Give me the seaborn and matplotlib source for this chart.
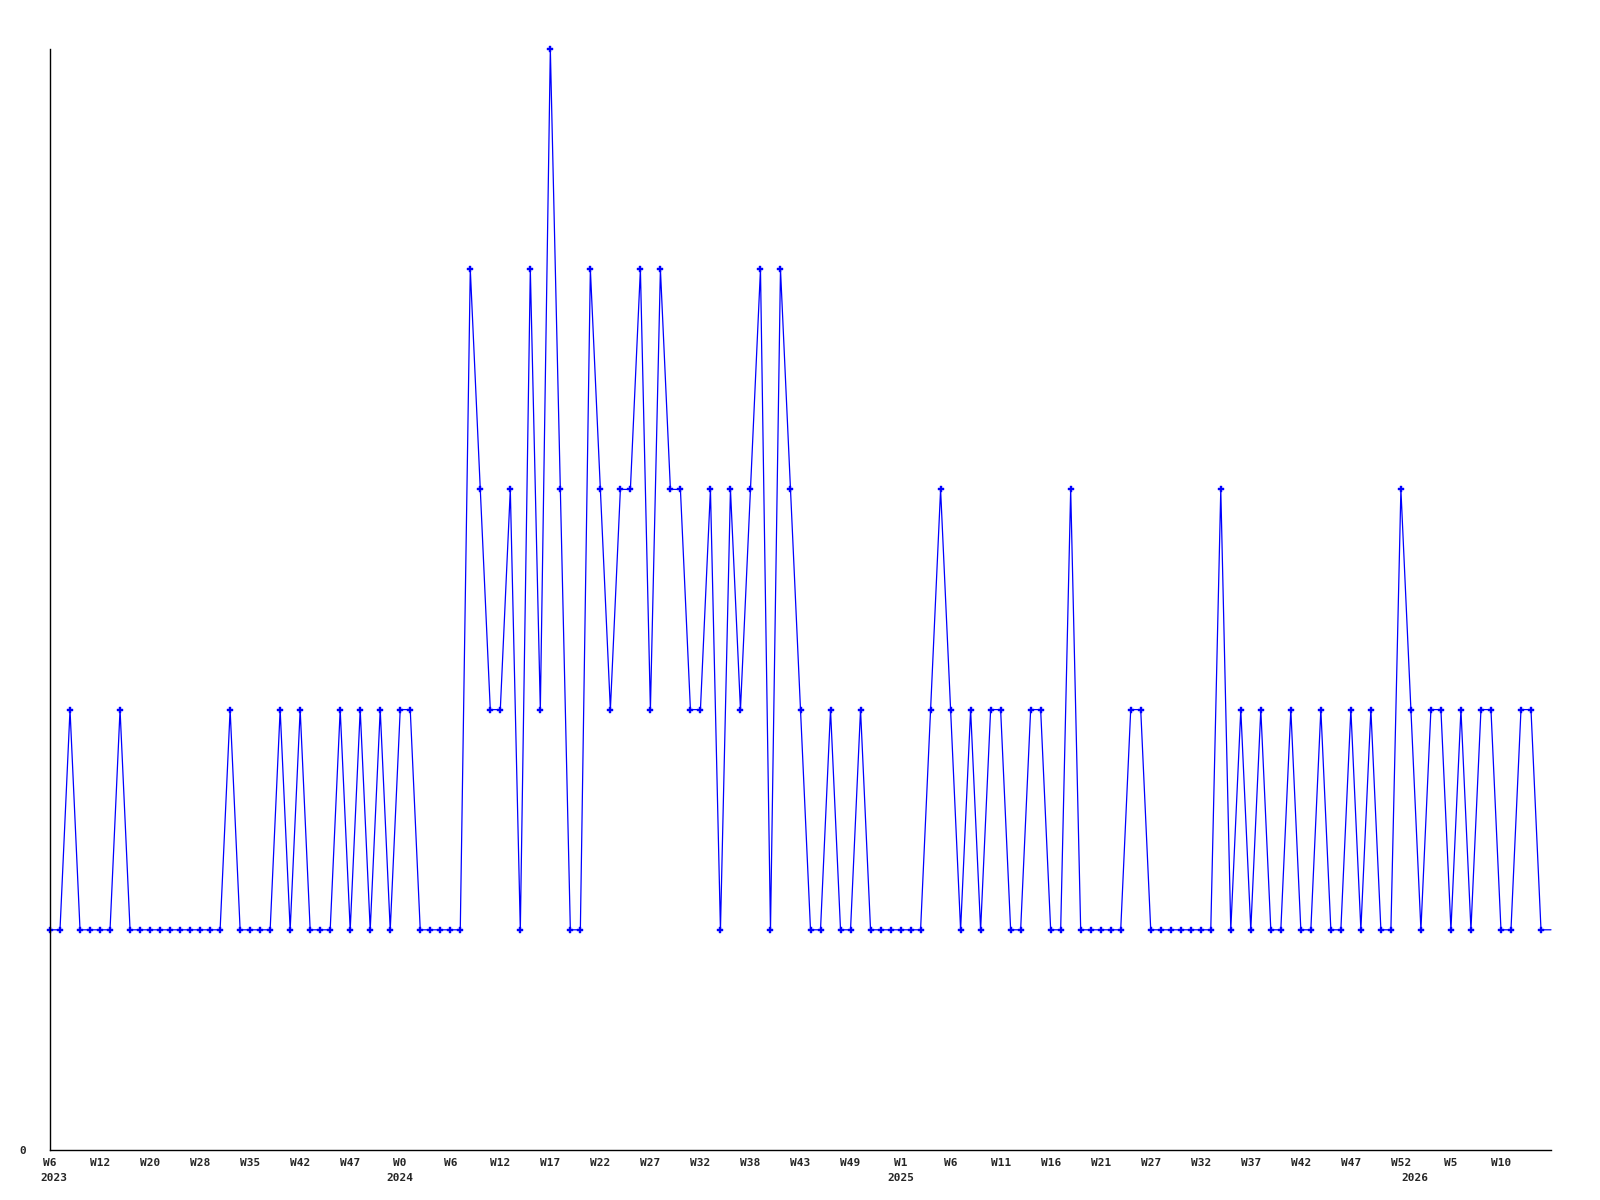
import numpy as np
import pandas as pd
import matplotlib
matplotlib.use('Agg')
import matplotlib.pyplot as plt
import seaborn as sns

# weekly counts, one value per week
counts = [1, 1, 2, 1, 1, 1, 1, 2, 1, 1,
          1, 1, 1, 1, 1, 1, 1, 1, 2, 1,
          1, 1, 1, 2, 1, 2, 1, 1, 1, 2,
          1, 2, 1, 2, 1, 2, 2, 1, 1, 1,
          1, 1, 4, 3, 2, 2, 3, 1, 4, 2,
          5, 3, 1, 1, 4, 3, 2, 3, 3, 4,
          2, 4, 3, 3, 2, 2, 3, 1, 3, 2,
          3, 4, 1, 4, 3, 2, 1, 1, 2, 1,
          1, 2, 1, 1, 1, 1, 1, 1, 2, 3,
          2, 1, 2, 1, 2, 2, 1, 1, 2, 2,
          1, 1, 3, 1, 1, 1, 1, 1, 2, 2,
          1, 1, 1, 1, 1, 1, 1, 3, 1, 2,
          1, 2, 1, 1, 2, 1, 1, 2, 1, 1,
          2, 1, 2, 1, 1, 3, 2, 1, 2, 2,
          1, 2, 1, 2, 2, 1, 1, 2, 2, 1,
          1]

week_labels = ['W6', 'W12', 'W20', 'W28', 'W35', 'W42', 'W47', 'W0', 'W6', 'W12',
               'W17', 'W22', 'W27', 'W32', 'W38', 'W43', 'W49', 'W1', 'W6', 'W11',
               'W16', 'W21', 'W27', 'W32', 'W37', 'W42', 'W47', 'W52', 'W5', 'W10']
label_step = 5

years = ['2023', '2024', '2025', '2026']
year_pos = [0.4, 35, 85, 136.4]

df = pd.DataFrame({'week': np.arange(len(counts)), 'count': counts})

sns.set_style('white')
plt.rcParams['font.family'] = ['DejaVu Sans Mono', 'DejaVu Sans']
plt.rcParams['font.weight'] = 'bold'

fig = plt.figure(figsize=(16, 12), dpi=100)
ax = fig.add_axes([50 / 1600, 50 / 1200, 1501 / 1600, 1101 / 1200])

sns.lineplot(data=df, x='week', y='count', ax=ax, color='#0000ff', linewidth=0.9,
             marker='P', markersize=5, markeredgewidth=0.3, markeredgecolor='#0000ff',
             markevery=list(range(len(counts) - 1)), clip_on=False)

ax.set_xlim(0, len(counts) - 1)
ax.set_ylim(0, 5)

ax.set_xticks(np.arange(0, len(week_labels) * label_step, label_step))
ax.set_xticklabels(week_labels, fontsize=8, fontweight='bold')
ax.set_yticks([0])
ax.set_yticklabels(['0'], fontsize=8, fontweight='bold')
ax.tick_params(axis='x', length=0, pad=5.5)
ax.tick_params(axis='y', length=0, pad=17)

for yr, pos in zip(years, year_pos):
    ax.annotate(yr, xy=(pos, 0), xycoords=('data', 'axes fraction'),
                xytext=(0, -28), textcoords='offset pixels',
                ha='center', va='center', fontsize=8, fontweight='bold')

ax.set_xlabel('')
ax.set_ylabel('')
for side in ['top', 'right']:
    ax.spines[side].set_visible(False)
for side in ['left', 'bottom']:
    ax.spines[side].set_color('black')
    ax.spines[side].set_linewidth(1)

fig.savefig('out.png', dpi=100)
